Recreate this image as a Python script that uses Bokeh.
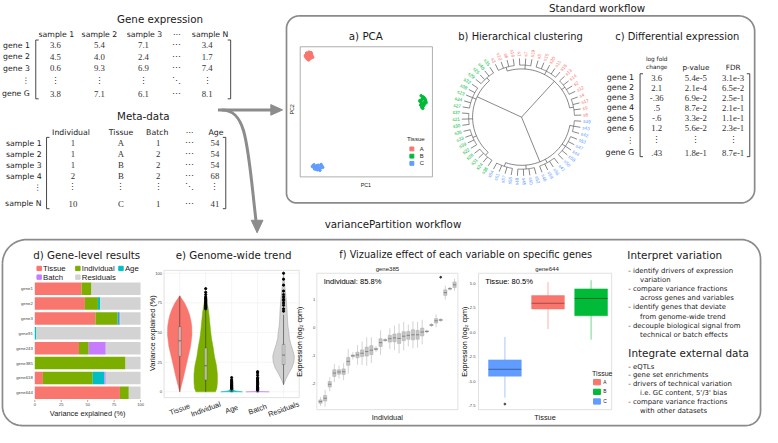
import numpy as np
from bokeh.plotting import figure
from bokeh.models import Range1d, ColumnDataSource
from bokeh.embed import file_html
from bokeh.resources import INLINE
from bokeh.core.properties import value

# ------------------------------------------------------------------ data
expr_samples = ["sample 1", "sample 2", "sample 3", "\u22ef", "sample N"]
expr_genes = ["gene 1", "gene 2", "gene 3", "\u22ee", "gene G"]
expr_s1 = ["3.6", "4.5", "0.6", "\u22ee", "3.8"]
expr_s2 = ["5.4", "4.0", "9.3", "\u22ee", "7.1"]
expr_s3 = ["7.1", "2.4", "6.9", "\u22ee", "6.1"]
expr_dots = ["\u22ef", "\u22ef", "\u22ef", "\u22f1", "\u22ef"]
expr_sN = ["3.4", "1.7", "7.4", "\u22ee", "8.1"]

meta_cols = ["Individual", "Tissue", "Batch", "\u22ef", "Age"]
meta_rows = ["sample 1", "sample 2", "sample 3", "sample 4", "\u22ee", "sample N"]
meta_individual = ["1", "1", "1", "2", "\u22ee", "10"]
meta_tissue = ["A", "A", "B", "B", "\u22ee", "C"]
meta_batch = ["1", "2", "2", "2", "\u22ee", "1"]
meta_dots = ["\u22ef", "\u22ef", "\u22ef", "\u22ef", "\u22f1", "\u22ef"]
meta_age = ["54", "54", "54", "68", "\u22ee", "41"]

de_genes = ["gene 1", "gene 2", "gene 3", "gene 4", "gene 5", "gene 6", "\u22ee", "gene G"]
de_logfc = ["3.6", "2.1", "-.36", ".5", "-.6", "1.2", "\u22ee", ".43"]
de_pval = ["5.4e-5", "2.1e-4", "6.9e-2", "8.7e-2", "3.3e-2", "5.6e-2", "\u22ee", "1.8e-1"]
de_fdr = ["3.1e-3", "6.5e-2", "2.5e-1", "2.1e-1", "1.1e-1", "2.3e-1", "\u22ee", "8.7e-1"]

tissue_levels = ["A", "B", "C"]
tissue_colors = ["#F8766D", "#00BA38", "#619CFF"]

pca_A_pc1 = [-54.1, -51.3, -52.8, -49.9, -53.5, -50.6, -55.0, -52.0, -48.7, -51.9,
             -53.9, -50.2, -54.6, -49.4, -52.4, -51.0, -53.1, -50.8, -55.3, -52.7]
pca_A_pc2 = [54.2, 52.8, 50.9, 53.6, 48.8, 51.2, 52.1, 55.0, 50.3, 49.7,
             53.3, 54.5, 50.0, 51.9, 47.9, 53.9, 52.4, 49.2, 51.5, 53.0]
pca_B_pc1 = [49.8, 52.3, 50.6, 53.7, 48.9, 51.5, 54.2, 50.1, 52.8, 49.4,
             51.9, 53.1, 50.4, 52.0, 48.6, 51.2, 53.9, 50.9, 52.5, 49.7]
pca_B_pc2 = [14.8, 12.9, 11.3, 10.6, 9.8, 13.7, 8.4, 7.9, 9.1, 6.2,
             5.5, 11.9, 4.1, 7.2, 10.3, 3.2, 9.6, 12.1, 6.8, 8.8]
pca_C_pc1 = [-48.2, -45.1, -42.6, -46.9, -40.3, -44.4, -47.5, -41.8, -43.7, -45.8,
             -39.6, -48.9, -42.1, -44.9, -46.3, -43.2, -41.1, -47.0, -45.5, -43.9]
pca_C_pc2 = [-49.6, -50.8, -52.3, -51.5, -50.1, -53.4, -48.9, -51.9, -49.3, -52.8,
             -51.2, -50.5, -53.9, -49.8, -50.9, -52.0, -48.6, -52.6, -51.7, -50.3]

# dendrogram leaf order (clockwise from the top)
den_red = ["s3", "s10", "s6", "s16", "s1", "s7", "s19", "s5", "s15", "s20",
           "s11", "s18", "s13", "s14", "s2", "s12", "s4", "s17", "s9", "s8"]
den_blue = ["s49", "s43", "s42", "s53", "s47", "s44", "s58", "s50", "s41", "s56",
            "s59", "s46", "s52", "s60", "s45", "s48", "s55", "s57", "s51", "s54"]
den_green = ["s36", "s24", "s31", "s28", "s22", "s39", "s33", "s26", "s30", "s21",
             "s37", "s27", "s34", "s23", "s38", "s32", "s29", "s25", "s40", "s35"]
den_groups_red = [4, 3, 5, 4, 4]
den_groups_blue = [3, 5, 4, 4, 4]
den_groups_green = [4, 4, 3, 5, 4]

vp_genes = ["gene1", "gene2", "gene3", "gene91", "gene243", "gene385", "gene618", "gene644"]
vp_tissue = [44.3, 47.4, 57.3, 0.0, 41.8, 0.0, 7.7, 80.5]
vp_individual = [9.3, 12.3, 21.0, 0.0, 9.2, 85.8, 47.1, 8.4]
vp_age = [0.0, 2.2, 1.5, 1.5, 0.0, 0.0, 11.1, 0.0]
vp_batch = [0.0, 0.0, 0.9, 0.0, 16.1, 0.0, 1.2, 0.0]
vp_vars = ["Tissue", "Individual", "Age", "Batch", "Residuals"]
vp_colors = ["#F8766D", "#7CAE00", "#00BFC4", "#C77CFF", "#D3D3D3"]
vp_ticks = [0, 25, 50, 75, 100]

vio_tissue_y = [0, 5, 13, 20, 29, 38, 48, 55, 60, 65, 70, 75, 78, 81]
vio_tissue_d = [0, .12, .31, .46, .65, .85, .96, .95, .88, .77, .60, .38, .19, 0]
vio_indiv_y = [0, 3, 8, 15, 22, 30, 38, 45, 52, 60, 68, 75, 80, 84]
vio_indiv_d = [.77, .88, .92, .92, .85, .69, .58, .46, .38, .31, .23, .12, .05, 0]
vio_age_y = [0, 0.5, 1, 2, 4, 8, 12]
vio_age_d = [.85, .46, .23, .12, .06, .03, 0]
vio_batch_y = [0, 0.3, 1, 3, 10, 16]
vio_batch_d = [.92, .23, .08, .04, .02, 0]
vio_resid_y = [6, 10, 15, 20, 25, 30, 35, 40, 45, 50, 55, 60, 70, 80, 90, 100]
vio_resid_d = [0, .15, .38, .65, .81, .85, .73, .58, .46, .42, .35, .31, .27, .19, .09, 0]
vio_q1 = [30, 10, 0, 0, 23]
vio_med = [43, 22, 0.2, 0, 31]
vio_q3 = [55, 37, 0.8, 0.3, 40]
vio_lo = [0, 0, 0, 0, 6]
vio_hi = [81, 70, 2, 1, 65]
vio_out_indiv = [70, 71, 72, 73, 74, 75, 76, 77, 78, 79, 80, 82, 84, 87]
vio_out_age = [2.5, 3, 3.5, 4, 4.5, 5, 5.5, 6, 7, 8, 9, 10, 12]
vio_out_batch = [1.5, 2, 2.5, 3, 3.5, 4, 5, 6, 7, 8, 9, 10, 11, 12, 14, 16, 17]
vio_out_resid = [68, 70, 73, 75, 77, 78, 80, 82, 85, 90, 95, 100]
vio_ticks = [0, 25, 50, 75, 100]

ind_med = [-2.66, -2.54, -2.04, -1.64, -1.60, -1.59, -1.22, -1.02, -0.99, -0.93,
           -0.87, -0.82, -0.78, -0.55, -0.46, -0.41, -0.38, -0.40, -0.32, -0.29,
           -0.27, -0.27, -0.17, -0.15, 0.08, 0.23, 0.26, 1.24, 1.38, 1.52]
ind_iqr = [0.06, 0.10, 0.10, 0.12, 0.08, 0.10, 0.14, 0.03, 0.10, 0.12,
           0.16, 0.16, 0.03, 0.14, 0.02, 0.12, 0.14, 0.18, 0.16, 0.14,
           0.18, 0.16, 0.14, 0.02, 0.02, 0.08, 0.02, 0.10, 0.02, 0.10]
ind_wsk = [0.10, 0.20, 0.15, 0.20, 0.15, 0.20, 0.30, 0.10, 0.25, 0.30,
           0.35, 0.30, 0.08, 0.30, 0.05, 0.25, 0.30, 0.35, 0.35, 0.25,
           0.30, 0.30, 0.30, 0.05, 0.05, 0.15, 0.05, 0.15, 0.05, 0.12]
ind_out_x = [27]
ind_out_y = [1.79]
ind_ticks = [1, 0, -1, -2]

g644_cats = ["C", "A", "B"]
g644_colors = ["#619CFF", "#F8766D", "#00BA38"]
g644_dark = ["#3d62a8", "#a84a44", "#00752a"]
g644_q1 = [-4.50, 2.35, 1.67]
g644_med = [-3.80, 2.94, 3.43]
g644_q3 = [-2.84, 3.73, 4.41]
g644_lo = [-6.70, 0.32, -0.78]
g644_hi = [-0.50, 5.10, 5.30]
g644_out = [-7.35]
g644_ticks = [5.0, 2.5, 0.0, -2.5, -5.0, -7.5]

interp_title = "Interpret variation"
interp_lines = ["- identify drivers of expression", "variation",
                "- compare variance fractions", "across genes and variables",
                "- identify genes that deviate", "from genome-wide trend",
                "- decouple biological signal from", "technical or batch effects"]
integ_title = "Integrate external data"
integ_lines = ["- eQTLs", "- gene set enrichments", "- drivers of technical variation",
               "i.e. GC content, 5'/3' bias", "- compare variance fractions",
               "with other datasets"]

# ------------------------------------------------------------------ canvas
W, H = 762, 427
RW, RH = 778, 443
FS = 0.972
p = figure(width=W, height=H, x_range=Range1d(0, RW), y_range=Range1d(RH, 0),
           output_backend="svg", toolbar_location=None, min_border=0,
           x_axis_location=None, y_axis_location=None)
p.grid.visible = False
p.outline_line_color = None

SANS = "DejaVu Sans"
ARIAL = "Liberation Sans"
SERIF = "Liberation Serif"
INK = "#1a1a1a"
BOX = "#8a8a8a"


def T(xs, ys, texts, size, color=INK, align="left", angle=0.0, font=SANS,
      xr=None, yr=None, baseline="middle"):
    kw = {}
    if xr:
        kw["x_range_name"] = xr
    if yr:
        kw["y_range_name"] = yr
    n = len(texts)
    ang = angle if isinstance(angle, list) else [angle] * n
    cols = color if isinstance(color, list) else [color] * n
    p.text(x=list(xs), y=list(ys), text=[str(t) for t in texts], angle=ang,
           text_font=value(font), text_font_size=value(f"{size * FS:.2f}px"),
           text_color=cols, text_align=align, text_baseline=baseline, **kw)


def add_ranges(name, xa, xb, pxa, pxb, ya, yb, pya, pyb):
    kx = (pxb - pxa) / (xb - xa)
    sx = xa - pxa / kx
    ky = (pyb - pya) / (yb - ya)
    sy = ya - (pya - RH) / ky
    p.extra_x_ranges = {**p.extra_x_ranges, name: Range1d(sx, sx + RW / kx)}
    p.extra_y_ranges = {**p.extra_y_ranges, name: Range1d(sy, sy - RH / ky)}


def rounded_box(x0, y0, x1, y1, rtl, rtr, rbr, rbl):
    xs, ys = [], []

    def arc(cx, cy, r, a0, a1):
        t = np.linspace(a0, a1, 16)
        xs.extend(cx + r * np.cos(t))
        ys.extend(cy + r * np.sin(t))
    arc(x0 + rtl, y0 + rtl, rtl, np.pi, 1.5 * np.pi)
    arc(x1 - rtr, y0 + rtr, rtr, 1.5 * np.pi, 2 * np.pi)
    arc(x1 - rbr, y1 - rbr, rbr, 0, 0.5 * np.pi)
    arc(x0 + rbl, y1 - rbl, rbl, 0.5 * np.pi, np.pi)
    xs.append(xs[0])
    ys.append(ys[0])
    p.line(xs, ys, line_color=BOX, line_width=1.7)


def bracket(x, y0, y1, d):
    p.line([x + d, x, x, x + d], [y0, y0, y1, y1], line_color="#333333", line_width=0.9)


# ------------------------------------------------------------------ gene expression table
T([119], [19], ["Gene expression"], 10.6)
col_x = [57, 101, 147, 180, 214]
T(col_x, [35] * 5, expr_samples, 8, align="center")
row_y = [46.5, 58.5, 70.5, 83.5, 97]
T([30] * 5, row_y, expr_genes, 8, align="right")
for cx, col in zip([56, 101, 146, 180, 211], [expr_s1, expr_s2, expr_s3, expr_dots, expr_sN]):
    T([cx] * 5, row_y, col, 9, color="#333333", align="center", font=SERIF)
bracket(36, 41, 102, 3)
bracket(235, 41, 102, -3)

# ------------------------------------------------------------------ meta-data table
T([119], [120], ["Meta-data"], 10.6)
mcol_x = [72, 123, 160, 193, 220]
T(mcol_x, [137] * 5, meta_cols, 8, align="center")
mrow_y = [148, 159.5, 171, 182.5, 194, 211]
T([42] * 6, mrow_y, meta_rows, 8, align="right")
for cx, col in zip([74, 123, 161, 193, 219],
                   [meta_individual, meta_tissue, meta_batch, meta_dots, meta_age]):
    T([cx] * 6, mrow_y, col, 9, color="#333333", align="center", font=SERIF)
bracket(47, 142, 216, 3)
bracket(230, 142, 216, -3)

# ------------------------------------------------------------------ arrows
ARW = "#8c8c8c"
p.line([222, 278], [113.5, 113.5], line_color=ARW, line_width=3)
p.patch([288, 276, 276], [113.5, 108, 119], fill_color=ARW, line_color=ARW)
p.bezier(x0=[226], y0=[113.5], x1=[261], y1=[230], cx0=[252], cy0=[113.5],
         cx1=[252], cy1=[150], line_color=ARW, line_width=3)
p.patch([262, 256, 268], [241, 228, 228], fill_color=ARW, line_color=ARW)

# ------------------------------------------------------------------ boxes and titles
T([560], [8], ["Standard workflow"], 10.6)
rounded_box(292, 16, 770, 210, 13, 16, 14, 10)
T([331], [232], ["variancePartition workflow"], 10.6)
rounded_box(2, 248, 776, 441, 25, 20, 15, 20)

# ------------------------------------------------------------------ a) PCA
T([373], [37], ["a) PCA"], 10.6, align="center")
p.quad(left=[306], right=[441], top=[48], bottom=[183], fill_color=None,
       line_color="#9a9a9a", line_width=0.8)
add_ranges("pca", -60, 60, 306, 441, -60, 60, 183, 48)
for xs_, ys_, col in zip([pca_A_pc1, pca_B_pc1, pca_C_pc1], [pca_A_pc2, pca_B_pc2, pca_C_pc2],
                         tissue_colors):
    p.scatter(xs_, ys_, size=2.6, color=col, x_range_name="pca", y_range_name="pca")
T([373], [191], ["PC1"], 5.5, align="center", font=ARIAL)
T([298], [113], ["PC2"], 5.5, align="center", angle=np.pi / 2, font=ARIAL)
T([415], [143], ["Tissue"], 6.3, font=ARIAL)
leg_y = [154, 161.5, 169]
p.rect(x=[420] * 3, y=leg_y, width=4, height=4, color=tissue_colors)
T([428] * 3, leg_y, tissue_levels, 6, font=ARIAL)

# ------------------------------------------------------------------ b) dendrogram
T([531], [37], ["b) Hierarchical clustering"], 10.2, align="center")
DCX, DCY = 532, 121


def pol(r, adeg):
    a = np.radians(adeg)
    return DCX + r * np.cos(a), DCY - r * np.sin(a)


leaf_names = den_red + den_blue + den_green
leaf_cols = [tissue_colors[0]] * 20 + [tissue_colors[2]] * 20 + [tissue_colors[1]] * 20
leaf_ang = [116 - 6 * i for i in range(60)]
seg_x, seg_y = [], []


def arc_pts(r, a0, a1):
    t = np.linspace(a0, a1, 30)
    xx, yy = pol(r, t)
    return list(xx), list(yy)


start = 0
for groups, root_a in zip([den_groups_red, den_groups_blue, den_groups_green], [48, -68, -205]):
    mids = []
    for g in groups:
        angs = leaf_ang[start:start + g]
        for a in angs:
            x0, y0 = pol(54, a)
            x1, y1 = pol(61, a)
            seg_x.append([x0, x1])
            seg_y.append([y0, y1])
        ax, ay = arc_pts(54, angs[0], angs[-1])
        seg_x.append(ax)
        seg_y.append(ay)
        m = (angs[0] + angs[-1]) / 2
        mids.append(m)
        x0, y0 = pol(50, m)
        x1, y1 = pol(54, m)
        seg_x.append([x0, x1])
        seg_y.append([y0, y1])
        start += g
    ax, ay = arc_pts(50, mids[0], mids[-1])
    seg_x.append(ax)
    seg_y.append(ay)
    x1, y1 = pol(50, root_a)
    seg_x.append([DCX, x1])
    seg_y.append([DCY, y1])
p.multi_line(seg_x, seg_y, line_color="#555555", line_width=0.7)

lx, ly, la, lal = [], [], [], []
for a in leaf_ang:
    x, y = pol(63, a)
    lx.append(x)
    ly.append(y)
    aa = ((a + 180) % 360) - 180
    if np.cos(np.radians(aa)) >= 0:
        la.append(np.radians(aa))
        lal.append("left")
    else:
        la.append(np.radians(aa + 180))
        lal.append("right")
p.text(x=lx, y=ly, text=leaf_names, angle=la, text_align=lal, text_baseline="middle",
       text_color=leaf_cols, text_font=value(ARIAL), text_font_size=value(f"{4.8 * FS:.2f}px"))

# ------------------------------------------------------------------ c) differential expression
T([691], [37], ["c) Differential expression"], 10.2, align="center")
T([670, 670], [61, 69], ["log fold", "change"], 6, align="center")
T([710, 748], [70, 70], ["p-value", "FDR"], 7.5, align="center")
de_y = [80, 90.5, 101, 111.5, 122, 132.5, 145, 158]
T([647] * 8, de_y, de_genes, 8.2, align="right")
for cx, col in zip([670, 710, 748], [de_logfc, de_pval, de_fdr]):
    T([cx] * 8, de_y, col, 9, color="#333333", align="center", font=SERIF)
bracket(653, 76, 162, 3)
bracket(765, 76, 162, -3)

# ------------------------------------------------------------------ d) gene-level results
T([88], [264], ["d) Gene-level results"], 10.6, align="center")
p.rect(x=[39.5, 79, 123], y=[278] * 3, width=4.5, height=4.5, color=vp_colors[:3])
T([43.5, 83, 127], [278] * 3, vp_vars[:3], 8, font=ARIAL)
p.rect(x=[39.5, 79], y=[287] * 2, width=4.5, height=4.5, color=vp_colors[3:])
T([43.5, 83], [287] * 2, vp_vars[3:], 8, font=ARIAL)
add_ranges("bar", 0, 100, 35, 143, 0, 7, 299, 407)
vp_resid = [round(100 - a - b - c - d, 2) for a, b, c, d in zip(vp_tissue, vp_individual, vp_age, vp_batch)]
bar_src = ColumnDataSource(dict(pos=list(range(len(vp_genes))), Tissue=vp_tissue,
                                Individual=vp_individual, Age=vp_age, Batch=vp_batch,
                                Residuals=vp_resid))
p.hbar_stack(vp_vars, y="pos", height=0.84, color=vp_colors, source=bar_src,
             x_range_name="bar", y_range_name="bar", line_color=None)
T([33] * 8, list(range(8)), vp_genes, 4.4, color="#444444", align="right", font=ARIAL, yr="bar")
p.segment(x0=vp_ticks, x1=vp_ticks, y0=[414.5] * 5, y1=[416.5] * 5, line_color="#555555",
          line_width=0.5, x_range_name="bar")
T(vp_ticks, [419.5] * 5, vp_ticks, 4.2, color="#444444", align="center", font=ARIAL, xr="bar")
T([89], [428], ["Variance explained (%)"], 7.6, align="center", font=ARIAL)

# ------------------------------------------------------------------ e) genome-wide trend
T([238], [264], ["e) Genome-wide trend"], 10.6, align="center")
add_ranges("vio", 1, 5, 183, 289, 0, 100, 406, 283)
p.quad(left=[167], right=[305], top=[280], bottom=[412], fill_color="white",
       line_color="#d9d9d9", line_width=0.8)
p.segment(x0=[0.4] * 5, x1=[5.6] * 5, y0=vio_ticks, y1=vio_ticks, line_color="#eeeeee",
          line_width=0.6, x_range_name="vio", y_range_name="vio")
p.segment(x0=[1, 2, 3, 4, 5], x1=[1, 2, 3, 4, 5], y0=[-4.8] * 5, y1=[102.3] * 5,
          line_color="#eeeeee", line_width=0.6, x_range_name="vio", y_range_name="vio")
VW = 0.49
vio_shapes = [(vio_tissue_y, vio_tissue_d), (vio_indiv_y, vio_indiv_d), (vio_age_y, vio_age_d),
              (vio_batch_y, vio_batch_d), (vio_resid_y, vio_resid_d)]
for i, ((vy, vd), col) in enumerate(zip(vio_shapes, vp_colors)):
    c = i + 1
    xs_ = [c + d * VW for d in vd] + [c - d * VW for d in vd[::-1]]
    ys_ = list(vy) + list(vy[::-1])
    p.patch(xs_, ys_, fill_color=col, line_color="#9a9a9a" if i == 4 else col,
            line_width=0.5, x_range_name="vio", y_range_name="vio")
cats = [1, 2, 3, 4, 5]
p.segment(x0=cats, x1=cats, y0=vio_lo, y1=vio_hi, line_color="#333333", line_width=0.6,
          x_range_name="vio", y_range_name="vio")
p.vbar(x=cats, width=0.1, bottom=vio_q1, top=vio_q3, fill_color="white", fill_alpha=0.55,
       line_color="#555555", line_width=0.4, x_range_name="vio", y_range_name="vio")
p.segment(x0=[c - 0.05 for c in cats], x1=[c + 0.05 for c in cats], y0=vio_med, y1=vio_med,
          line_color="#333333", line_width=0.6, x_range_name="vio", y_range_name="vio")
for c, outs in zip([2, 3, 4, 5], [vio_out_indiv, vio_out_age, vio_out_batch, vio_out_resid]):
    p.scatter([c] * len(outs), outs, size=2.2, color="black", x_range_name="vio", y_range_name="vio")
T([165] * 5, vio_ticks, vio_ticks, 4.2, color="#444444", align="right", font=ARIAL, yr="vio")
T(cats, [424] * 5, vp_vars, 7.6, align="center", angle=np.radians(20), font=ARIAL, xr="vio")
T([155], [345], ["Variance explained (%)"], 7.6, align="center", angle=np.pi / 2, font=ARIAL)

# ------------------------------------------------------------------ f) gene385
T([475], [264], ["f) Vizualize effect of each variable on specific genes"], 10.0, align="center")
T([395, 558], [279, 279], ["gene385", "gene644"], 6.2, align="center", font=ARIAL)
p.quad(left=[323], right=[467], top=[283], bottom=[424.5], fill_color="white",
       line_color="#d9d9d9", line_width=0.8)
add_ranges("g385", 1, 30, 326.7, 463.6, 0, 1, 339, 310)
ind_x = list(range(1, 31))
ind_q1 = [m - q for m, q in zip(ind_med, ind_iqr)]
ind_q3 = [m + q for m, q in zip(ind_med, ind_iqr)]
ind_lo = [m - q - w for m, q, w in zip(ind_med, ind_iqr, ind_wsk)]
ind_hi = [m + q + w for m, q, w in zip(ind_med, ind_iqr, ind_wsk)]
p.segment(x0=ind_x, x1=ind_x, y0=ind_lo, y1=ind_hi, line_color="#b5b5b5", line_width=0.6,
          x_range_name="g385", y_range_name="g385")
p.vbar(x=ind_x, width=0.72, bottom=ind_q1, top=ind_q3, fill_color="#c4c4c4",
       line_color="#a5a5a5", line_width=0.4, x_range_name="g385", y_range_name="g385")
p.segment(x0=[x - 0.36 for x in ind_x], x1=[x + 0.36 for x in ind_x], y0=ind_med, y1=ind_med,
          line_color="#6a6a6a", line_width=0.7, x_range_name="g385", y_range_name="g385")
p.scatter(ind_out_x, ind_out_y, size=1.8, color="#333333", x_range_name="g385", y_range_name="g385")
T([321.5] * 4, ind_ticks, ind_ticks, 4.2, color="#444444", align="right", font=ARIAL, yr="g385")

# ------------------------------------------------------------------ f) gene644
p.quad(left=[488], right=[624], top=[283], bottom=[424.5], fill_color="white",
       line_color="#d9d9d9", line_width=0.8)
add_ranges("g644", 1, 3, 515, 603, 0, 2.5, 344, 318.6)
gx = [1, 2, 3]
p.segment(x0=gx, x1=gx, y0=g644_lo, y1=g644_hi, line_color=g644_colors, line_width=0.7,
          line_alpha=0.8, x_range_name="g644", y_range_name="g644")
p.vbar(x=gx, width=0.76, bottom=g644_q1, top=g644_q3, fill_color=g644_colors,
       line_color=g644_colors, line_width=0.5, x_range_name="g644", y_range_name="g644")
p.segment(x0=[x - 0.38 for x in gx], x1=[x + 0.38 for x in gx], y0=g644_med, y1=g644_med,
          line_color=g644_dark, line_width=1.0, x_range_name="g644", y_range_name="g644")
p.scatter([1], g644_out, size=1.8, color="#444444", x_range_name="g644", y_range_name="g644")
T([485] * 6, g644_ticks, [f"{t:.1f}" for t in g644_ticks], 4.2, color="#444444",
  align="right", font=ARIAL, yr="g644")
T([604], [387], ["Tissue"], 7.2, font=ARIAL)
gl_y = [396, 406, 416]
p.rect(x=[609] * 3, y=gl_y, width=7, height=5.5, color=tissue_colors)
T([615.5] * 3, gl_y, tissue_levels, 5, font=ARIAL)

# texts of both gene panels
T([330, 495], [292, 292], ["Individual: 85.8%", "Tissue: 80.5%"], 7.8, color="#000000", font=ARIAL)
T([395, 556], [433, 433], ["Individual", "Tissue"], 7.6, color="#202020", align="center",
  font=ARIAL)
T([305, 473.5], [354, 354], ["Expression (log\u2082 cpm)", "Expression (log\u2082 cpm)"], 7.4,
  color="#000000", align="center", angle=np.pi / 2, font=ARIAL)

# ------------------------------------------------------------------ text panels
T([640], [264], [interp_title], 10.7)
ix = [641, 653, 641, 653, 641, 653, 641, 653]
iy = [281, 289.5, 299, 308.5, 318.5, 328, 338, 347.5]
T(ix, iy, interp_lines, 7.1)
T([641], [366], [integ_title], 10.7)
jx = [641, 641, 641, 653, 641, 653]
jy = [380, 389, 398, 407.5, 417, 426]
T(jx, jy, integ_lines, 7.1)

open("out.html", "w").write(file_html(p, INLINE))
